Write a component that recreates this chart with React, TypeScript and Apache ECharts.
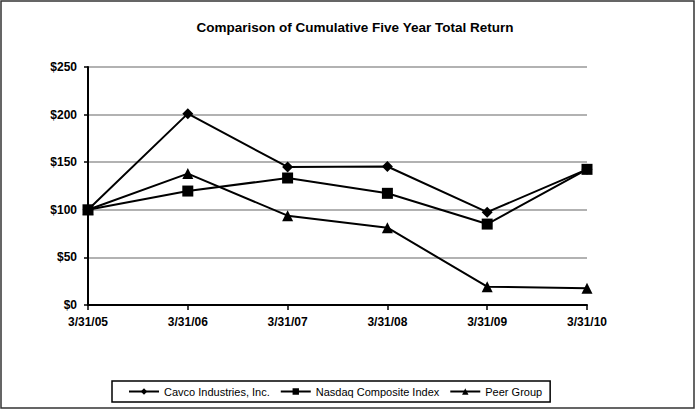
import React, { useEffect, useRef } from "react";
import * as echarts from "echarts";

const categories = ["3/31/05", "3/31/06", "3/31/07", "3/31/08", "3/31/09", "3/31/10"];
const cavco = [100, 201, 145, 145.5, 97.5, 142.5];
const nasdaq = [100, 119.7, 133.4, 117.3, 85, 142.5];
const peer = [100, 138, 93.8, 81.2, 19.3, 17.5];
const yTicks = { min: 0, max: 250, interval: 50 };

export default function App() {
  const ref = useRef<HTMLDivElement>(null);
  useEffect(() => {
    document.body.style.margin = "0";
    const chart = echarts.init(ref.current!, null, { renderer: "svg" });
    const font = "Arial, 'Liberation Sans', sans-serif";
    const mkSeries = (name: string, data: number[], symbol: string, size: number) => ({
      name,
      type: "line",
      data,
      symbol,
      symbolSize: size,
      lineStyle: { color: "#000", width: 2 },
      itemStyle: { color: "#000", borderColor: "#000", borderWidth: 0 },
      showAllSymbol: true,
    });
    chart.setOption({
      animation: false,
      backgroundColor: "#fff",
      title: {
        text: "Comparison of Cumulative Five Year Total Return",
        left: 350,
        textAlign: "center",
        top: 15,
        textStyle: { fontFamily: font, fontSize: 13.5, fontWeight: "bold", color: "#000" },
      },
      graphic: [
        {
          type: "rect",
          shape: { x: 1, y: 1, width: 693, height: 407 },
          style: { fill: "none", stroke: "#333", lineWidth: 1.5 },
          silent: true,
        },
      ],
      legend: {
        left: 112,
        top: 381,
        padding: [5, 8, 5, 16],
        itemGap: 10,
        itemWidth: 30,
        itemHeight: 8,
        borderColor: "#000",
        borderWidth: 1.5,
        textStyle: { fontFamily: font, fontSize: 11, color: "#000" },
        data: ["Cavco Industries, Inc.", "Nasdaq Composite Index", "Peer Group"],
      },
      grid: { left: 88, right: 109, top: 67, bottom: 107, containLabel: false },
      xAxis: {
        type: "category",
        data: categories,
        boundaryGap: false,
        axisLine: { lineStyle: { color: "#000", width: 2 } },
        axisTick: { show: true, alignWithLabel: true, length: 5, lineStyle: { color: "#000", width: 1.5 } },
        axisLabel: { fontFamily: font, fontSize: 12, fontWeight: "bold", color: "#000", margin: 11 },
        splitLine: { show: false },
      },
      yAxis: {
        type: "value",
        min: yTicks.min,
        max: yTicks.max,
        interval: yTicks.interval,
        axisLine: { show: true, lineStyle: { color: "#000", width: 2 } },
        axisTick: { show: true, length: 4, lineStyle: { color: "#000", width: 1.5 } },
        axisLabel: {
          fontFamily: font,
          fontSize: 12,
          fontWeight: "bold",
          color: "#000",
          margin: 11,
          formatter: (v: number) => "$" + v,
        },
        splitLine: { show: true, lineStyle: { color: "#999", width: 1.5 } },
      },
      series: [
        mkSeries("Cavco Industries, Inc.", cavco, "diamond", 11),
        mkSeries("Nasdaq Composite Index", nasdaq, "rect", 11),
        mkSeries("Peer Group", peer, "triangle", 11),
      ],
    });
    return () => chart.dispose();
  }, []);
  return <div ref={ref} style={{ width: 696, height: 412 }} />;
}
